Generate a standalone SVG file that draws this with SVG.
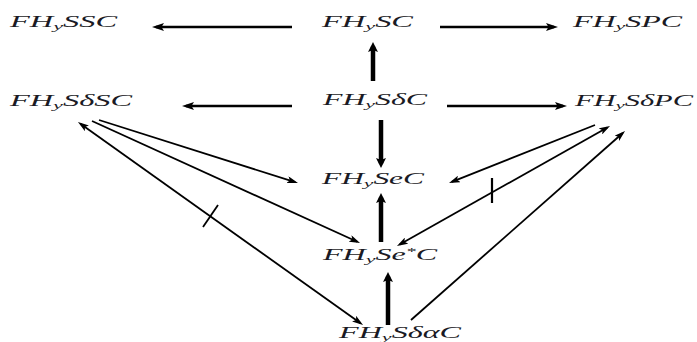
<svg xmlns="http://www.w3.org/2000/svg" width="697" height="342" viewBox="0 0 697 342">
<style>
text{font-family:"Liberation Serif","DejaVu Serif",serif;font-style:italic;font-size:16px;fill:#1a1a24}
.sub{font-size:11px}
.sup{font-size:10px}
.h{stroke:#000;stroke-width:2.5;fill:none}
.v{stroke:#000;stroke-width:4.5;fill:none}
.d{stroke:#000;stroke-width:1.8;fill:none}
</style>
<defs>
<marker id="ah" markerUnits="userSpaceOnUse" markerWidth="12" markerHeight="8" refX="8" refY="4" orient="auto"><path d="M0,0 L12,4 L0,8 L2.5,4 z" fill="#000"/></marker>
<marker id="av" markerUnits="userSpaceOnUse" markerWidth="10" markerHeight="10" refX="5.5" refY="5" orient="auto"><path d="M0,0 L10,5 L0,10 L2,5 z" fill="#000"/></marker>
<marker id="ad" markerUnits="userSpaceOnUse" markerWidth="11" markerHeight="7" refX="8" refY="3.5" orient="auto-start-reverse"><path d="M0,0 L11,3.5 L0,7 L2.5,3.5 z" fill="#000"/></marker>
</defs>
<g id="connectors">
<line class="h" x1="292" y1="27" x2="156" y2="27" marker-end="url(#ah)"/>
<line class="h" x1="440" y1="27" x2="554" y2="27" marker-end="url(#ah)"/>
<line class="h" x1="292" y1="106" x2="186" y2="106" marker-end="url(#ah)"/>
<line class="h" x1="447" y1="106" x2="563" y2="106" marker-end="url(#ah)"/>
<line class="v" x1="373" y1="81" x2="373" y2="46.5" marker-end="url(#av)"/>
<line class="v" x1="381" y1="120" x2="381" y2="163.5" marker-end="url(#av)"/>
<line class="v" x1="381" y1="242" x2="381" y2="197.5" marker-end="url(#av)"/>
<line class="v" x1="388" y1="325" x2="388" y2="276.5" marker-end="url(#av)"/>
<line class="d" x1="99" y1="120" x2="295.1" y2="182.1" marker-end="url(#ad)"/>
<line class="d" x1="92" y1="121" x2="357.3" y2="241.8" marker-end="url(#ad)"/>
<line class="d" x1="80.4" y1="123.7" x2="360.6" y2="323.3" marker-start="url(#ad)" marker-end="url(#ad)"/>
<line class="d" x1="203" y1="227" x2="218" y2="205"/>
<line class="d" x1="595" y1="125" x2="451.8" y2="181.9" marker-end="url(#ad)"/>
<line class="d" x1="399.6" y1="244.5" x2="607.4" y2="127.5" marker-start="url(#ad)" marker-end="url(#ad)"/>
<line class="d" x1="492" y1="178" x2="492" y2="203" style="stroke-width:2.2"/>
<line class="d" x1="411" y1="320" x2="622.8" y2="133" marker-end="url(#ad)"/>
</g>
<g id="FHySSC"><text x="10" y="27" textLength="107" lengthAdjust="spacingAndGlyphs">FH<tspan class="sub" dy="3">y</tspan><tspan dy="-3">SSC</tspan></text></g>
<g id="FHySC"><text x="322" y="27" textLength="91" lengthAdjust="spacingAndGlyphs">FH<tspan class="sub" dy="3">y</tspan><tspan dy="-3">SC</tspan></text></g>
<g id="FHySPC"><text x="573" y="27" textLength="109" lengthAdjust="spacingAndGlyphs">FH<tspan class="sub" dy="3">y</tspan><tspan dy="-3">SPC</tspan></text></g>
<g id="FHySdSC"><text x="10" y="106" textLength="122" lengthAdjust="spacingAndGlyphs">FH<tspan class="sub" dy="3">y</tspan><tspan dy="-3">SδSC</tspan></text></g>
<g id="FHySdC"><text x="323" y="105" textLength="104" lengthAdjust="spacingAndGlyphs">FH<tspan class="sub" dy="3">y</tspan><tspan dy="-3">SδC</tspan></text></g>
<g id="FHySdPC"><text x="575" y="106" textLength="118" lengthAdjust="spacingAndGlyphs">FH<tspan class="sub" dy="3">y</tspan><tspan dy="-3">SδPC</tspan></text></g>
<g id="FHySeC"><text x="322" y="184" textLength="102" lengthAdjust="spacingAndGlyphs">FH<tspan class="sub" dy="3">y</tspan><tspan dy="-3">SeC</tspan></text></g>
<g id="FHySestarC"><text x="323" y="260" textLength="114" lengthAdjust="spacingAndGlyphs">FH<tspan class="sub" dy="3">y</tspan><tspan dy="-3">Se</tspan><tspan class="sup" dy="-5">*</tspan><tspan dy="5">C</tspan></text></g>
<g id="FHySdaC"><text x="339" y="338" textLength="122" lengthAdjust="spacingAndGlyphs">FH<tspan class="sub" dy="3">y</tspan><tspan dy="-3">SδαC</tspan></text></g>
</svg>
